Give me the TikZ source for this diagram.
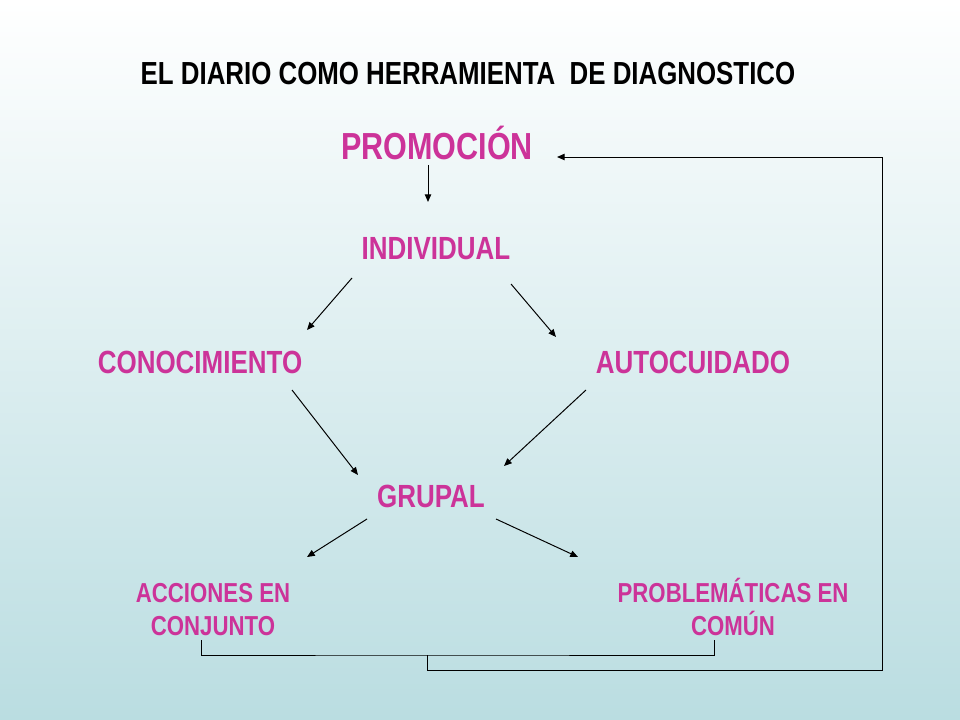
\documentclass[tikz,border=0pt]{standalone}
\usepackage{fontspec}
\setmainfont[FakeStretch=0.81]{Liberation Sans}
\usetikzlibrary{calc,arrows.meta}
\definecolor{diarypink}{RGB}{204, 51, 153}
\definecolor{diaryteal}{RGB}{186, 221, 225}

\begin{document}
\begin{tikzpicture}[x=0.025cm, y=-0.025cm,
    lbl/.style={anchor=base, inner sep=0, text=diarypink, font=\bfseries\fontsize{22.8}{27}\selectfont},
    arr/.style={-{Triangle[length=5.5pt, width=4.6pt]}, line width=0.7pt}]
                    \shade[top color=white, bottom color=diaryteal] (0,0) rectangle (960,720);
                    \node[anchor=base, inner sep=0, font=\bfseries\fontsize{22.7}{27}\selectfont] (title) at (468,85) {EL DIARIO COMO HERRAMIENTA\ \ DE DIAGNOSTICO};
                    \node[lbl, font=\bfseries\fontsize{26.8}{32}\selectfont] (prom) at (437,160) {PROMOCIÓN};
                    \node[lbl] (ind) at (436,260) {INDIVIDUAL};
                    \node[lbl] (con) at (200,374) {CONOCIMIENTO};
                    \node[lbl] (aut) at (693,374) {AUTOCUIDADO};
                    \node[lbl] (grp) at (431,508) {GRUPAL};
                    \node[lbl, align=center, font=\bfseries\fontsize{19.5}{23}\selectfont] (acc) at (213,635) {ACCIONES EN\\CONJUNTO};
                    \node[lbl, align=center, font=\bfseries\fontsize{19.5}{23}\selectfont] (pro) at (733,635) {PROBLEMÁTICAS EN\\COMÚN};
                    \coordinate (join) at (427,655);
                    \coordinate (rim) at (882,670);
                    \draw[arr] ($(prom.base)+(-9,5)$) -- ($(ind.base)+(-8,-58)$);
                    \draw[arr] ($(ind.base)+(-84,18)$) -- ($(con.base)+(107,-44)$);
                    \draw[arr] ($(ind.base)+(75,24)$) -- ($(aut.base)+(-137,-37)$);
                    \draw[arr] ($(con.base)+(92,16)$) -- ($(grp.base)+(-73,-33)$);
                    \draw[arr] ($(aut.base)+(-107,16)$) -- ($(grp.base)+(73,-42)$);
                    \draw[arr] ($(grp.base)+(-64,11)$) -- ($(acc.base)+(94,-78)$);
                    \draw[arr] ($(grp.base)+(65,11)$) -- ($(pro.base)+(-155,-78)$);
                    \draw[line width=0.7pt] ($(acc.base)+(-12,5)$) |- (join) -| ($(pro.base)+(-19,5)$);
                    \draw[arr] (join) |- (rim) |- ($(prom.base)+(120,-3)$);
                \end{tikzpicture}
\end{document}
